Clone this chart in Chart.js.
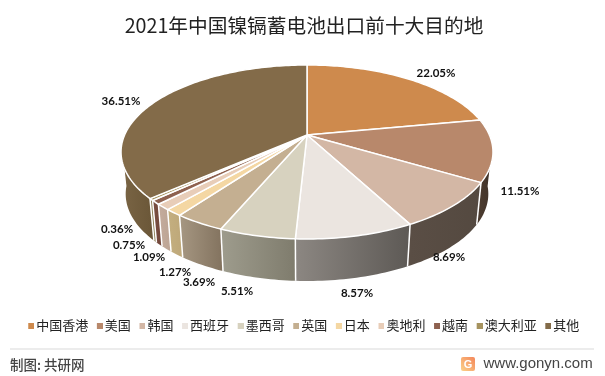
<!DOCTYPE html>
<html>
<head>
<meta charset="utf-8">
<style>
  html, body { margin: 0; padding: 0; background: #fff; }
  canvas { display: block; }
</style>
<script src="https://cdn.jsdelivr.net/npm/chart.js@4"></script>
</head>
<body>
<canvas id="pieChart" width="605" height="376"></canvas>
<script>
"use strict"

var categories = ["中国香港", "美国", "韩国", "西班牙", "墨西哥", "英国", "日本", "奥地利", "越南", "澳大利亚", "其他"];
var shares = [22.05, 11.51, 8.69, 8.57, 5.51, 3.69, 1.27, 1.09, 0.75, 0.36, 36.51];

var topColors = ["#CE8A4D", "#B8886B", "#D3B7A5", "#EBE5E0", "#D7D2BF", "#C4AF91", "#F4D7A3", "#E8CDB8", "#8E614F", "#A6935F", "#836B49"];
// side wall gradient, left to right
var sideLeft = ["#8a5c33", "#4a3a2e", "#5a4e45", "#8c8782", "#9e9c8d", "#a69782", "#c4af80", "#c4ac9d", "#7c5345", "#8f8052", "#7a6545"];
var sideRight = ["#8a5c33", "#40332a", "#544940", "#5d5955", "#7f7c6d", "#847460", "#bfa97a", "#bea696", "#74493c", "#887a4e", "#6c5839"];

// label centres, slice order
var labelX = [436, 520, 449, 357, 237, 199, 175, 149, 129, 117, 121];
var labelY = [73, 191, 257, 293, 291, 282, 272, 257, 245, 229, 101];

// perspective of the disc: unit circle -> screen
var apexX = 307, apexY = 135, scaleX = 182.4, scaleY = 83.7, tilt = -0.195;
var depth = 42, bottomShrink = 0.975;

function topPoint(t) {
  var d = 1 + tilt * Math.sin(t);
  return [apexX + scaleX * Math.cos(t) / d, apexY + scaleY * Math.sin(t) / d];
}
function bottomPoint(t) {
  var p = topPoint(t);
  return [apexX + (p[0] - apexX) * bottomShrink, p[1] + depth];
}
function arcSteps(a, b) {
  var n = Math.max(2, Math.ceil((b - a) / 0.02)), out = [];
  for (var i = 0; i <= n; i++) out.push(a + (b - a) * i / n);
  return out;
}

var pie3d = {
  id: "pie3d",
  beforeDatasetDraw: function(chart, args) {
    var ctx = chart.ctx;
    var arcs = chart.getDatasetMeta(args.index).data;
    ctx.save();

    // side walls first, the top covers what is behind
    arcs.forEach(function(arc, i) {
      var steps = arcSteps(arc.startAngle, arc.endAngle);
      var front = steps.filter(function(t) { return Math.sin(t) > 0.1; });
      if (!front.length) return;
      var xs = front.map(function(t) { return topPoint(t)[0]; });
      var grad = ctx.createLinearGradient(Math.min.apply(null, xs), 0, Math.max.apply(null, xs), 0);
      grad.addColorStop(0, sideLeft[i]);
      grad.addColorStop(1, sideRight[i]);
      ctx.beginPath();
      front.forEach(function(t) { var p = topPoint(t); ctx.lineTo(p[0], p[1]); });
      front.slice().reverse().forEach(function(t) { var p = bottomPoint(t); ctx.lineTo(p[0], p[1]); });
      ctx.closePath();
      ctx.fillStyle = grad;
      ctx.fill();
    });

    // fill the left and right shoulders of the wall
    arcs.forEach(function(arc, i) {
      var steps = arcSteps(arc.startAngle, arc.endAngle);
      var back = steps.filter(function(t) { return Math.sin(t) <= 0.1 && Math.sin(t) > -0.2; });
      if (!back.length) return;
      ctx.beginPath();
      back.forEach(function(t) { var p = topPoint(t); ctx.lineTo(p[0], p[1]); });
      back.slice().reverse().forEach(function(t) { var p = bottomPoint(t); ctx.lineTo(p[0], p[1]); });
      ctx.closePath();
      ctx.fillStyle = Math.cos(back[0]) < 0 ? sideLeft[i] : sideRight[i];
      ctx.fill();
    });

    // white seams on the wall
    ctx.strokeStyle = "#fff";
    ctx.lineWidth = 1.5;
    arcs.forEach(function(arc) {
      if (Math.sin(arc.endAngle) <= 0.25) return;
      var a = topPoint(arc.endAngle), b = bottomPoint(arc.endAngle);
      ctx.beginPath();
      ctx.moveTo(a[0], a[1]);
      ctx.lineTo(b[0], b[1]);
      ctx.stroke();
    });

    // top face
    arcs.forEach(function(arc, i) {
      ctx.beginPath();
      ctx.moveTo(apexX, apexY);
      arcSteps(arc.startAngle, arc.endAngle).forEach(function(t) {
        var p = topPoint(t);
        ctx.lineTo(p[0], p[1]);
      });
      ctx.closePath();
      ctx.fillStyle = topColors[i];
      ctx.fill();
      ctx.strokeStyle = "#fff";
      ctx.lineWidth = 1.5;
      ctx.lineJoin = "round";
      ctx.stroke();
    });

    // percentage labels
    ctx.font = "bold 11.5px Lato";
    ctx.fillStyle = "#111";
    ctx.textAlign = "center";
    ctx.textBaseline = "middle";
    arcs.forEach(function(arc, i) {
      ctx.fillText(shares[i].toFixed(2) + "%", labelX[i], labelY[i]);
    });
    ctx.restore();
    return false;
  },
  afterDraw: function(chart) {
    var ctx = chart.ctx;
    ctx.save();
    ctx.strokeStyle = "#e6e6e6";
    ctx.lineWidth = 1.5;
    ctx.beginPath();
    ctx.moveTo(10, 349);
    ctx.lineTo(594, 349);
    ctx.stroke();

    ctx.fillStyle = "#444";
    ctx.textBaseline = "middle";
    ctx.textAlign = "left";
    ctx.font = "500 13.5px 'Noto Sans CJK SC'";
    ctx.fillText("制图: 共研网", 10, 365);
    ctx.font = "15px 'Liberation Sans'";
    ctx.fillText("www.gonyn.com", 483.5, 364);

    // site logo
    var grad = ctx.createLinearGradient(475, 357, 461, 371);
    grad.addColorStop(0, "#f4865a");
    grad.addColorStop(1, "#fbd28a");
    ctx.fillStyle = grad;
    ctx.beginPath();
    ctx.roundRect(461, 357, 14, 14, 2);
    ctx.fill();
    ctx.fillStyle = "#fff";
    ctx.font = "bold 11px 'Liberation Sans'";
    ctx.textAlign = "center";
    ctx.fillText("G", 468, 364.5);
    ctx.restore();
  }
};

// square marker sitting close to the legend text
function legendMark(color) {
  var c = document.createElement("canvas");
  c.width = 10;
  c.height = 6;
  var g = c.getContext("2d");
  g.fillStyle = color;
  g.fillRect(4, 0, 6, 6);
  return c;
}

var ctxP = document.getElementById("pieChart").getContext("2d");
var myPieChart = new Chart(ctxP, {
  type: "pie",
  data: {
    labels: categories,
    datasets: [{
      data: shares,
      backgroundColor: topColors,
      borderWidth: 0
    }]
  },
  options: {
    responsive: false,
    animation: false,
    layout: { padding: { bottom: 34, left: 3 } },
    plugins: {
      title: {
        display: true,
        text: "2021年中国镍镉蓄电池出口前十大目的地",
        color: "#222",
        font: { family: "'Noto Sans CJK SC'", size: 19.7, weight: "normal" },
        padding: { top: 14, bottom: 10 }
      },
      legend: {
        position: "bottom",
        labels: {
          usePointStyle: true,
          boxWidth: 1,
          boxHeight: 6,
          padding: 9.1,
          color: "#222",
          font: { family: "'Noto Sans CJK SC'", size: 13 },
          generateLabels: function(chart) {
            return categories.map(function(name, i) {
              return { text: name, fontColor: "#222", pointStyle: legendMark(topColors[i]), index: i, lineWidth: 0, strokeStyle: "transparent" };
            });
          }
        }
      },
      tooltip: { enabled: false }
    }
  },
  plugins: [pie3d]
});
</script>
</body>
</html>
